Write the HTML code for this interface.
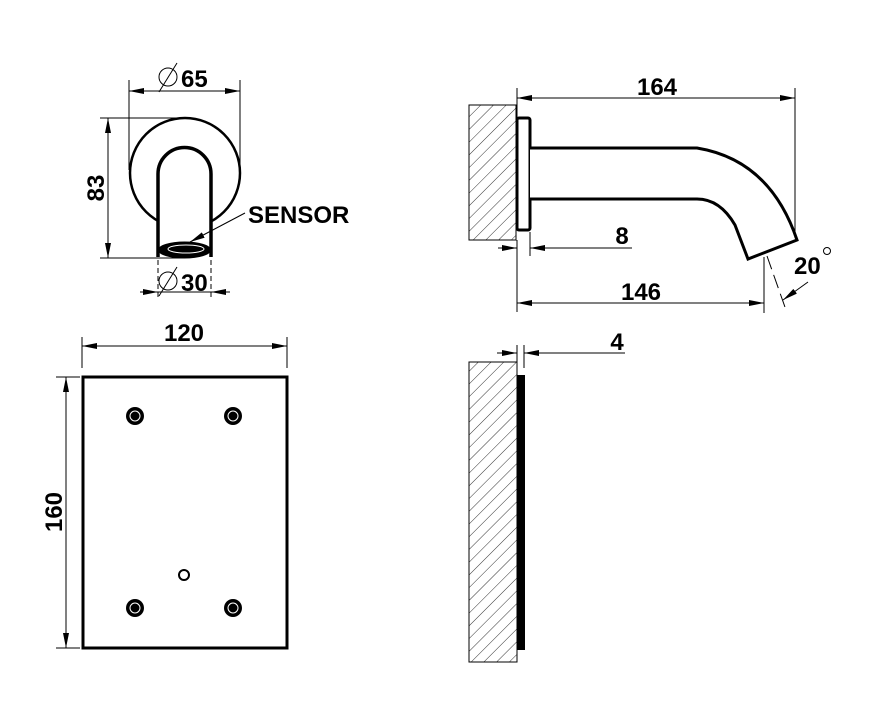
<!DOCTYPE html>
<html><head><style>html,body{margin:0;padding:0;background:#fff}svg{display:block}</style></head><body>
<svg width="871" height="716" viewBox="0 0 871 716" xmlns="http://www.w3.org/2000/svg" font-family="Liberation Sans, sans-serif" font-weight="bold">
<defs>
<pattern id="h" width="9" height="9" patternUnits="userSpaceOnUse" patternTransform="rotate(45)"><line x1="0" y1="0" x2="0" y2="9" stroke="#000" stroke-width="0.8"/></pattern>
<marker id="a" viewBox="0 0 15 6" refX="15" refY="3" markerWidth="15" markerHeight="6" orient="auto" markerUnits="userSpaceOnUse"><path d="M0,0L15,3L0,6z"/></marker>
</defs>
<g stroke="#000" fill="none">
<line x1="129" y1="80" x2="129" y2="170" stroke-width="1"/>
<line x1="240" y1="80" x2="240" y2="170" stroke-width="1"/>
<line x1="185" y1="91" x2="129" y2="91" marker-end="url(#a)"/>
<line x1="185" y1="91" x2="240" y2="91" marker-end="url(#a)"/>
<circle cx="185" cy="173" r="55" stroke-width="2.5" fill="#fff"/>
<path d="M158,257 V174 A26.5,26.5 0 0 1 211,174 V257" stroke-width="3.5" fill="#fff"/>
<ellipse cx="184.5" cy="250" rx="26" ry="8" fill="#000"/>
<ellipse cx="186" cy="249" rx="18" ry="4" stroke="#fff" stroke-width="1"/>
<line x1="100" y1="118" x2="185" y2="118"/>
<line x1="100" y1="258" x2="185" y2="258"/>
<line x1="108" y1="188" x2="108" y2="118" marker-end="url(#a)"/>
<line x1="108" y1="188" x2="108" y2="258" marker-end="url(#a)"/>
<line x1="158" y1="260" x2="158" y2="300" stroke-dasharray="5,3"/>
<line x1="211" y1="260" x2="211" y2="300" stroke-dasharray="5,3"/>
<line x1="140" y1="292" x2="158" y2="292" marker-end="url(#a)"/>
<line x1="230" y1="292" x2="211" y2="292" marker-end="url(#a)"/>
<line x1="158" y1="292" x2="211" y2="292"/>
<line x1="245" y1="213" x2="190" y2="242" marker-end="url(#a)"/>
<circle cx="168" cy="77" r="9" stroke-width="1"/><line x1="159" y1="92" x2="177" y2="63"/>
<circle cx="168" cy="281" r="9" stroke-width="1"/><line x1="159" y1="296" x2="177" y2="267"/>
<rect x="469" y="105" width="47" height="135" fill="url(#h)"/>
<rect x="517" y="118" width="13" height="112" rx="2" stroke-width="3" fill="#fff"/>
<path d="M530,148 H697 Q770,160 797,240 L748,259 L735,225 Q720,199 697,199 H530" stroke-width="3" fill="#fff"/>
<line x1="517" y1="88" x2="517" y2="118"/>
<line x1="795" y1="88" x2="795" y2="238"/>
<line x1="656" y1="98" x2="517" y2="98" marker-end="url(#a)"/>
<line x1="656" y1="98" x2="795" y2="98" marker-end="url(#a)"/>
<line x1="530" y1="232" x2="530" y2="256"/>
<line x1="498" y1="248" x2="517" y2="248" marker-end="url(#a)"/>
<line x1="632" y1="248" x2="530" y2="248" marker-end="url(#a)"/>
<line x1="517" y1="240" x2="517" y2="312"/>
<line x1="764" y1="257" x2="764" y2="313"/>
<line x1="640" y1="303" x2="517" y2="303" marker-end="url(#a)"/>
<line x1="640" y1="303" x2="764" y2="303" marker-end="url(#a)"/>
<line x1="767" y1="256" x2="786" y2="310" stroke-dasharray="14,6"/>
<line x1="808" y1="282" x2="783" y2="300" marker-end="url(#a)"/>
<circle cx="827" cy="251" r="3.5" stroke-width="1"/>
<line x1="82" y1="337" x2="82" y2="368"/>
<line x1="287" y1="337" x2="287" y2="368"/>
<line x1="184" y1="346" x2="82" y2="346" marker-end="url(#a)"/>
<line x1="184" y1="346" x2="287" y2="346" marker-end="url(#a)"/>
<line x1="56" y1="377" x2="80" y2="377"/>
<line x1="56" y1="648" x2="80" y2="648"/>
<line x1="66" y1="512" x2="66" y2="377" marker-end="url(#a)"/>
<line x1="66" y1="512" x2="66" y2="648" marker-end="url(#a)"/>
<rect x="83" y="377" width="204" height="271" stroke-width="3"/>
<g fill="#000" stroke="none">
<circle cx="135" cy="416" r="9"/><circle cx="233" cy="416" r="9"/>
<circle cx="135" cy="608" r="9"/><circle cx="233" cy="608" r="9"/>
</g>
<g stroke="#fff" stroke-width="1">
<circle cx="135" cy="416" r="5"/><circle cx="233" cy="416" r="5"/>
<circle cx="135" cy="608" r="5"/><circle cx="233" cy="608" r="5"/>
</g>
<circle cx="184" cy="575" r="5" stroke-width="2"/>
<rect x="469" y="362" width="48" height="300" fill="url(#h)"/>
<rect x="517" y="375" width="8" height="275" fill="#000" stroke="none"/>
<line x1="517" y1="345" x2="517" y2="362"/>
<line x1="524" y1="345" x2="524" y2="368"/>
<line x1="497" y1="353" x2="517" y2="353" marker-end="url(#a)"/>
<line x1="625" y1="353" x2="524" y2="353" marker-end="url(#a)"/>
</g>
<g font-size="24" fill="#000">
<text x="181" y="87">65</text>
<text x="181" y="291">30</text>
<text x="248" y="223">SENSOR</text>
<text transform="translate(104,188) rotate(-90)" text-anchor="middle">83</text>
<text x="657" y="95" text-anchor="middle">164</text>
<text x="622" y="244" text-anchor="middle">8</text>
<text x="641" y="300" text-anchor="middle">146</text>
<text x="794" y="274">20</text>
<text x="184" y="341" text-anchor="middle">120</text>
<text transform="translate(62,512) rotate(-90)" text-anchor="middle">160</text>
<text x="617" y="350" text-anchor="middle">4</text>
</g>
</svg>
</body></html>
